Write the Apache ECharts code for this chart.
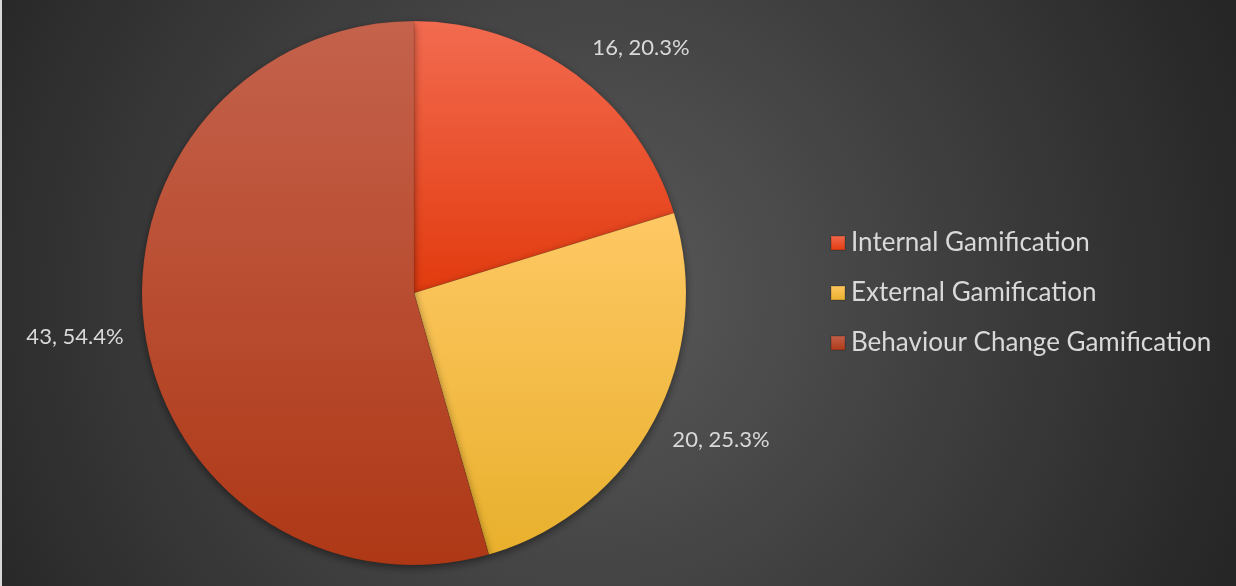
<!DOCTYPE html>
<html>
<head>
<meta charset="utf-8">
<script src="https://cdn.jsdelivr.net/npm/echarts@6/dist/echarts.min.js"></script>
<style>
  html, body { margin: 0; padding: 0; background: #262626; }
  #chart { width: 1236px; height: 586px; }
</style>
</head>
<body>
<div id="chart"></div>
<script>
// Gamification types and their counts
const categories = ['Internal Gamification', 'External Gamification', 'Behaviour Change Gamification'];
const counts = [16, 20, 43];

// Per-slice gradient fills (top colour, bottom colour)
const sliceTop = ['#f26b50', '#ffc864', '#c4624c'];
const sliceBottom = ['#e23a0e', '#e8b02c', '#ae3816'];

// Where each data label sits on the canvas
const labelX = [641, 721, 75];
const labelY = [48, 440, 337];

const total = counts.reduce((a, b) => a + b, 0);

const chart = echarts.init(document.getElementById('chart'), null, { renderer: 'canvas' });

const data = categories.map((name, i) => ({
  name: name,
  value: counts[i],
  itemStyle: {
    color: new echarts.graphic.LinearGradient(0, 0, 0, 1, [
      { offset: 0, color: sliceTop[i] },
      { offset: 1, color: sliceBottom[i] }
    ])
  }
}));

chart.setOption({
  backgroundColor: {
    type: 'radial', x: 590, y: 293, r: 690, global: true,
    colorStops: [
      { offset: 0, color: '#5a5a5a' },
      { offset: 1, color: '#262626' }
    ]
  },
  animation: false,
  legend: {
    orient: 'vertical',
    left: 830,
    top: 230,
    padding: 0,
    itemWidth: 14,
    itemHeight: 14,
    itemGap: 24,
    icon: 'rect',
    textStyle: {
      color: '#d9d9d9',
      fontFamily: 'Lato',
      fontSize: 26,
      lineHeight: 26,
      padding: [0, 0, 0, 1]
    },
    data: categories
  },
  graphic: [{
    type: 'rect',
    left: 0, top: 0,
    shape: { width: 2, height: 586 },
    style: { fill: '#d8d8d8' },
    silent: true
  }],
  series: [{
    type: 'pie',
    center: [414, 293],
    radius: 272,
    startAngle: 90,
    clockwise: true,
    data: data,
    itemStyle: {
      borderColor: 'rgba(0,0,0,0.12)',
      borderWidth: 0.6,
      shadowBlur: 8,
      shadowOffsetY: 3,
      shadowColor: 'rgba(0,0,0,0.45)'
    },
    label: {
      show: true,
      position: 'outside',
      color: '#d9d9d9',
      fontFamily: 'Lato',
      fontSize: 22,
      overflow: 'none',
      formatter: (p) => p.value + ', ' + (p.value / total * 100).toFixed(1) + '%'
    },
    labelLine: { show: false },
    labelLayout: (params) => ({
      x: labelX[params.dataIndex],
      y: labelY[params.dataIndex],
      align: 'center',
      verticalAlign: 'middle'
    }),
    emphasis: { disabled: true }
  }]
});
</script>
</body>
</html>
